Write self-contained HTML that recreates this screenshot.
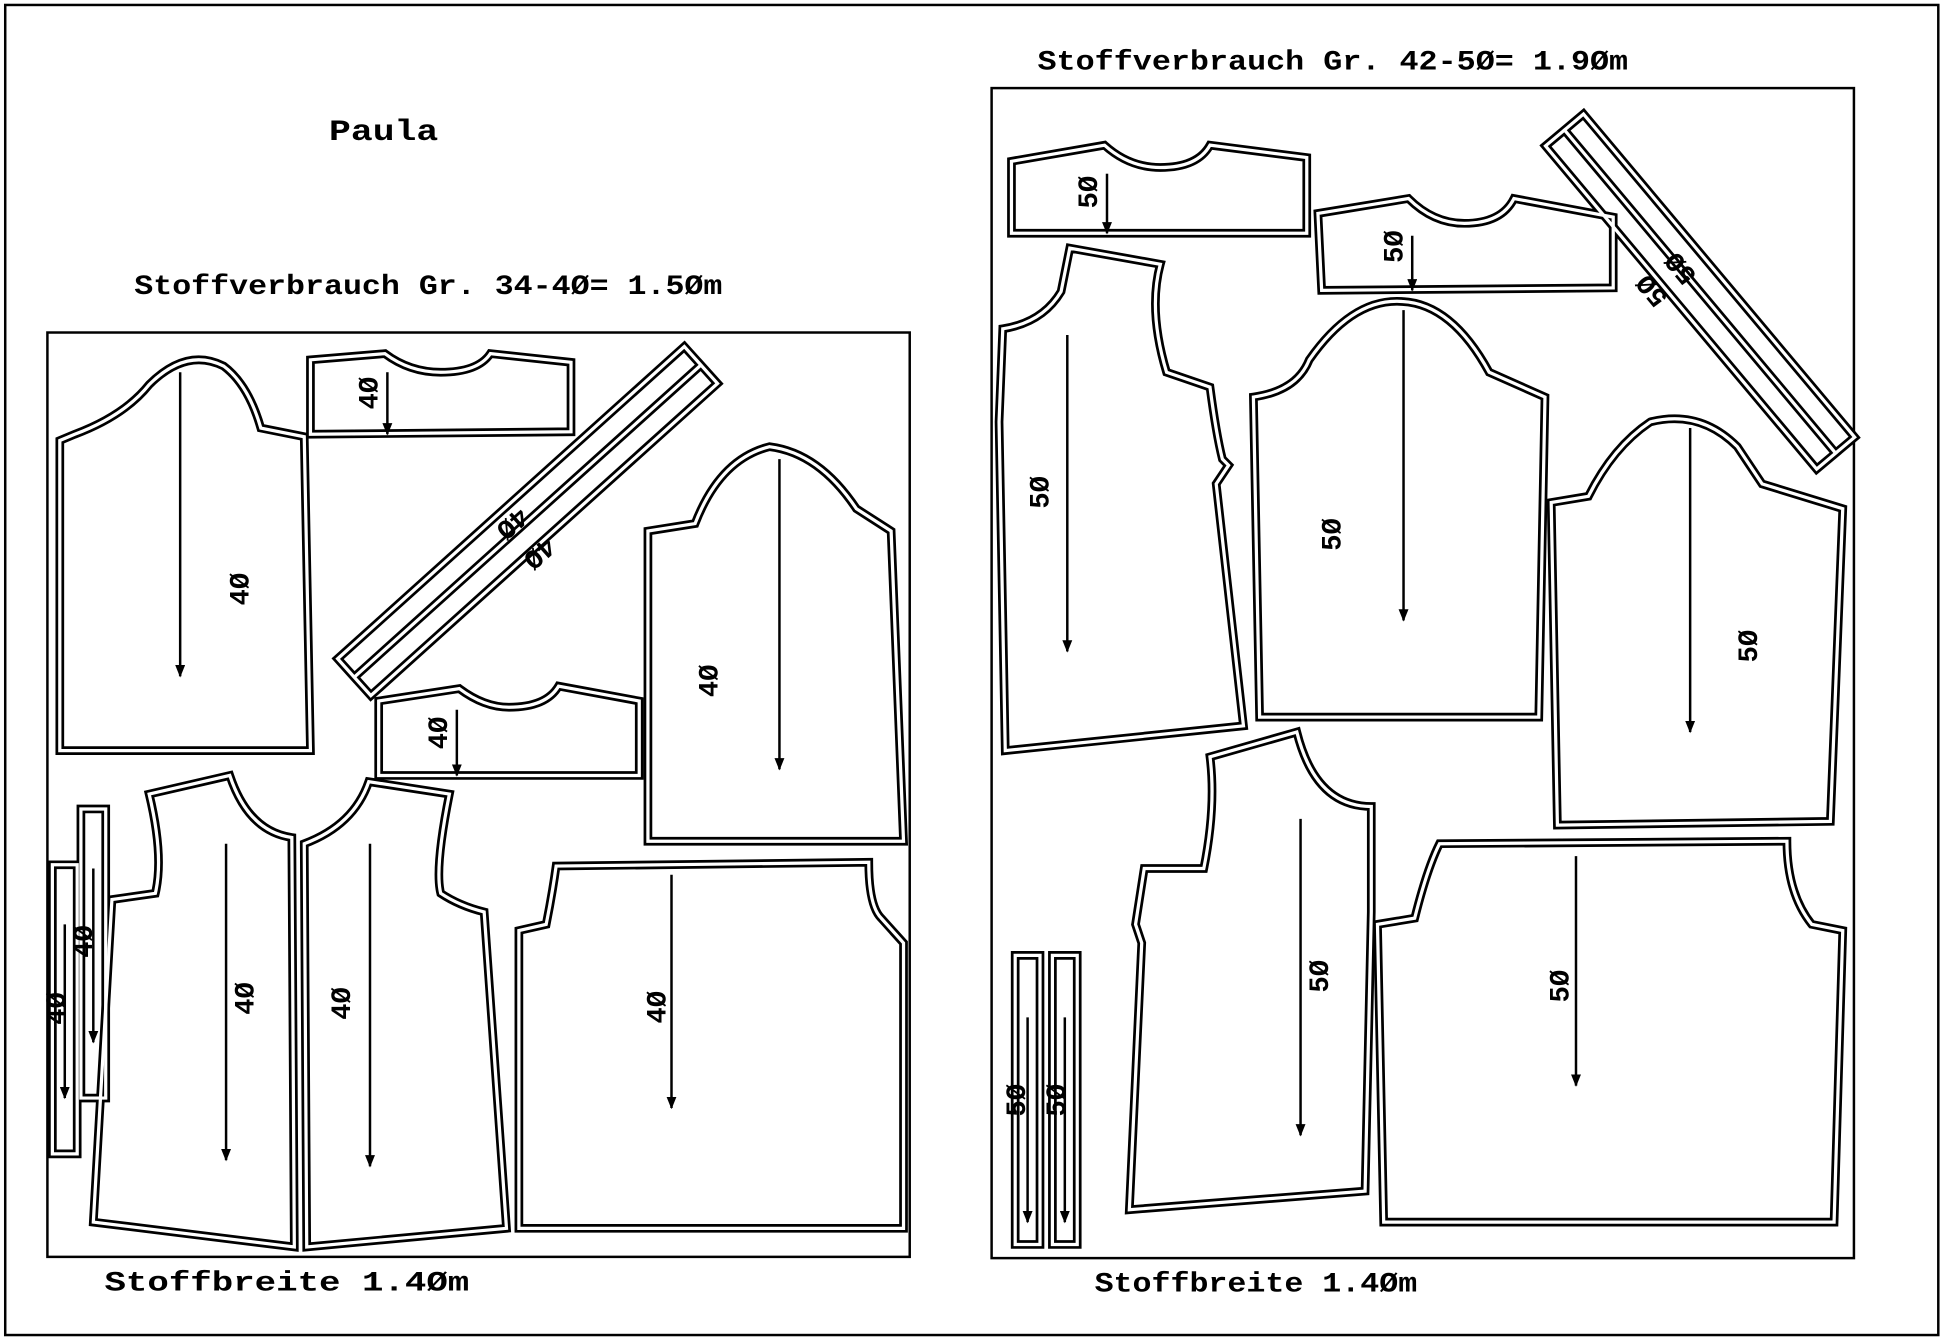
<!DOCTYPE html>
<html><head><meta charset="utf-8"><style>
html,body{margin:0;padding:0;background:#fff}
svg{display:block}
text{font-family:"Liberation Mono",monospace;font-weight:bold;fill:#000}
.a{stroke:#000;stroke-width:2;fill:none}
</style></head><body>
<svg width="1946" height="1340" viewBox="0 0 1568 1080" xmlns="http://www.w3.org/2000/svg">
<defs>
<marker id="ar" markerWidth="8" markerHeight="10" refX="4" refY="9" orient="0" markerUnits="userSpaceOnUse">
<path d="M0,0 L4,10 L8,0 Z" fill="#000"/></marker>
<g id="pieces" fill="none">
<path d="M48,605 L48,355 L60,350 Q100,335 120,310 Q150,280 180,295 Q200,310 210,345 L245,352 L250,605 Z"/>
<path d="M250,290 L310,285 Q330,300 355,300 Q385,300 395,285 L460,292 L460,348 L250,350 Z"/>
<path d="M305,565 L370,555 Q390,570 410,570 Q440,570 450,553 L515,565 L515,625 L305,625 Z"/>
<path d="M522,678 L522,428 L560,422 Q580,370 620,360 Q660,365 690,410 L718,428 L728,678 Z"/>
<path d="M75,985 L90,725 L125,720 Q132,690 120,640 L185,625 Q200,670 235,675 L237,1005 Z"/>
<path d="M247,1005 L245,680 Q285,665 297,630 L362,640 Q350,700 355,720 Q370,730 390,735 L408,990 Z"/>
<path d="M418,990 L418,750 L440,745 Q445,720 448,698 L700,695 Q700,730 710,740 L728,760 L728,990 Z"/>
<path d="M42,697 h20 v233 h-20 Z M65,652 h20 v233 h-20 Z"/>
<path d="M815,130 L890,117 Q910,135 935,135 Q965,135 975,117 L1053,127 L1053,188 L815,188 Z"/>
<path d="M1062,172 L1135,160 Q1155,180 1180,180 Q1210,180 1220,160 L1300,175 L1300,232 L1065,234 Z"/>
<path d="M810,605 L805,340 L808,265 Q840,260 855,235 L862,200 L935,213 Q925,250 940,300 L975,312 Q980,350 985,370 L990,375 L980,390 L1002,585 Z"/>
<path d="M1015,578 L1010,320 Q1045,315 1055,290 Q1090,240 1130,243 Q1170,245 1200,300 L1245,320 L1240,578 Z"/>
<path d="M1255,665 L1250,405 L1280,400 Q1300,360 1330,340 Q1370,330 1400,360 L1420,390 L1485,410 L1475,662 Z"/>
<path d="M910,975 L920,760 L915,745 L922,700 L970,700 Q980,650 975,610 L1045,590 Q1060,650 1105,650 L1105,735 L1100,960 Z"/>
<path d="M1115,985 L1110,745 L1140,740 Q1150,700 1160,680 L1440,678 Q1440,720 1460,745 L1485,750 L1478,985 Z"/>
<path d="M818,770 h20 v233 h-20 Z M848,770 h20 v233 h-20 Z"/>
<g transform="translate(425,420) rotate(-42)"><path d="M-188,-20 h376 v20 h-376 Z M-188,0 h376 v20 h-376 Z"/></g>
<g transform="translate(1370,235) rotate(50)"><path d="M-170,-20 h340 v20 h-340 Z M-170,0 h340 v20 h-340 Z"/></g>
</g>
</defs>
<rect x="4" y="4" width="1558" height="1072" fill="none" stroke="#000" stroke-width="2"/>
<rect x="38" y="268" width="695" height="745" fill="none" stroke="#000" stroke-width="2"/>
<rect x="799" y="71" width="695" height="943" fill="none" stroke="#000" stroke-width="2"/>

<text x="265" y="113" font-size="24" font-weight="normal" textLength="88" lengthAdjust="spacingAndGlyphs">Paula</text>
<text x="108" y="237" font-size="22" textLength="474" lengthAdjust="spacingAndGlyphs">Stoffverbrauch Gr. 34-4Ø= 1.5Øm</text>
<text x="836" y="56" font-size="22" textLength="476" lengthAdjust="spacingAndGlyphs">Stoffverbrauch Gr. 42-5Ø= 1.9Øm</text>
<text x="84" y="1040" font-size="22" textLength="294" lengthAdjust="spacingAndGlyphs">Stoffbreite 1.4Øm</text>
<text x="882" y="1041" font-size="22" textLength="260" lengthAdjust="spacingAndGlyphs">Stoffbreite 1.4Øm</text>

<use href="#pieces" fill="none" stroke="#000" stroke-width="7"/>
<use href="#pieces" fill="none" stroke="#fff" stroke-width="2.6"/>

<g class="a" marker-end="url(#ar)">
<line x1="145" y1="300" x2="145" y2="545"/>
<line x1="312" y1="300" x2="312" y2="350"/>
<line x1="368" y1="572" x2="368" y2="625"/>
<line x1="628" y1="370" x2="628" y2="620"/>
<line x1="182" y1="680" x2="182" y2="935"/>
<line x1="298" y1="680" x2="298" y2="940"/>
<line x1="541" y1="705" x2="541" y2="893"/>
<line x1="52" y1="745" x2="52" y2="885"/>
<line x1="75" y1="700" x2="75" y2="840"/>
<line x1="892" y1="140" x2="892" y2="188"/>
<line x1="1138" y1="190" x2="1138" y2="234"/>
<line x1="860" y1="270" x2="860" y2="525"/>
<line x1="1131" y1="250" x2="1131" y2="500"/>
<line x1="1362" y1="345" x2="1362" y2="590"/>
<line x1="1048" y1="660" x2="1048" y2="915"/>
<line x1="1270" y1="690" x2="1270" y2="875"/>
<line x1="828" y1="820" x2="828" y2="985"/>
<line x1="858" y1="820" x2="858" y2="985"/>
</g>
<g font-size="22">
<text transform="translate(200,488) rotate(-90)">4Ø</text>
<text transform="translate(304,330) rotate(-90)">4Ø</text>
<text transform="translate(360,604) rotate(-90)">4Ø</text>
<text transform="translate(578,562) rotate(-90)">4Ø</text>
<text transform="translate(204,818) rotate(-90)">4Ø</text>
<text transform="translate(282,822) rotate(-90)">4Ø</text>
<text transform="translate(536,825) rotate(-90)">4Ø</text>
<text transform="translate(52,826) rotate(-90)">4Ø</text>
<text transform="translate(74,772) rotate(-90)">4Ø</text>
<text transform="translate(418,408) rotate(138)">4Ø</text>
<text transform="translate(440,432) rotate(138)">4Ø</text>
<text transform="translate(884,168) rotate(-90)">5Ø</text>
<text transform="translate(1130,212) rotate(-90)">5Ø</text>
<text transform="translate(845,410) rotate(-90)">5Ø</text>
<text transform="translate(1080,444) rotate(-90)">5Ø</text>
<text transform="translate(1416,534) rotate(-90)">5Ø</text>
<text transform="translate(1070,800) rotate(-90)">5Ø</text>
<text transform="translate(1264,808) rotate(-90)">5Ø</text>
<text transform="translate(826,900) rotate(-90)">5Ø</text>
<text transform="translate(858,900) rotate(-90)">5Ø</text>
<text transform="translate(1345,240) rotate(230)">5Ø</text>
<text transform="translate(1368,222) rotate(230)">5Ø</text>
</g>
</svg>
</body></html>
